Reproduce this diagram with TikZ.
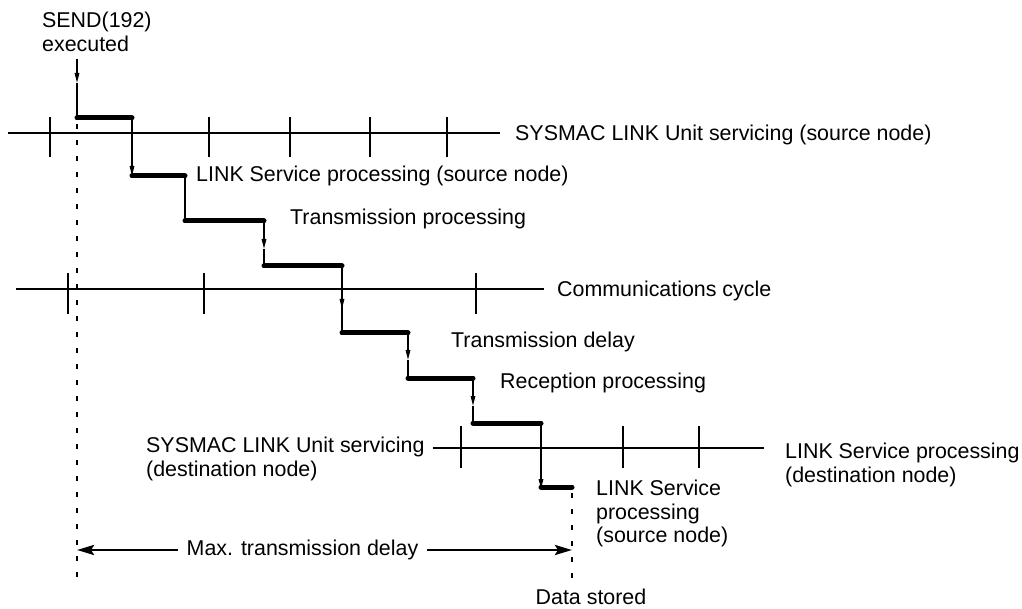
\documentclass[tikz,border=0pt]{standalone}
\usepackage{fontspec}
\setmainfont{Liberation Sans}
\usetikzlibrary{arrows.meta}
\begin{document}
\begin{tikzpicture}[x=1pt,y=-1pt,
  axis/.style={line width=1.3pt},
  tickmark/.style={line width=1.3pt},
  steptrace/.style={line width=5pt, line cap=round},
  drop/.style={line width=1.5pt},
  droparrow/.style={line width=1.5pt,-{Triangle[length=10pt,width=4.5pt]}},
  guide/.style={line width=1.2pt, dash pattern=on 5pt off 11pt},
  lbl/.style={font=\fontsize{21.4}{23.3}\selectfont, inner sep=0pt},
  span/.style={line width=2.8pt,-{Stealth[length=17pt,width=10pt,inset=3pt]}}
]
\useasboundingbox (0,0) rectangle (1022,609);

% guide lines
\coordinate (gLt) at (77,124);
\coordinate (gLb) at (77,584);
\coordinate (gRt) at (572,493);
\coordinate (gRb) at (572,578);
\draw[guide] (gLt) -- (gLb);
\draw[guide] (gRt) -- (gRb);

% time axes
\coordinate (a1s) at (8,133);   \coordinate (a1e) at (500,133);
\coordinate (a2s) at (16,289);  \coordinate (a2e) at (544,289);
\coordinate (a3s) at (433,448); \coordinate (a3e) at (764,448);
\draw[axis] (a1s) -- (a1e);
\draw[axis] (a2s) -- (a2e);
\draw[axis] (a3s) -- (a3e);
\foreach \x in {50,209,290,370,447} \draw[tickmark] (\x,117) -- (\x,157);
\foreach \x in {68,204,342,476} \draw[tickmark] (\x,273) -- (\x,314);
\foreach \x in {461,623,699} \draw[tickmark] (\x,426) -- (\x,468);

% step trace
\coordinate (p0) at (77,59);
\coordinate (m0) at (77,83);
\coordinate (s1a) at (77,118);  \coordinate (s1b) at (132,118);
\coordinate (s2a) at (132,176); \coordinate (s2b) at (185,176);
\coordinate (s3a) at (185,221); \coordinate (s3b) at (264,221);
\coordinate (m3) at (264,249);
\coordinate (s4a) at (264,266); \coordinate (s4b) at (342,266);
\coordinate (m4) at (342,309);
\coordinate (s5a) at (342,333); \coordinate (s5b) at (408,333);
\coordinate (m5) at (408,360);
\coordinate (s6a) at (408,378); \coordinate (s6b) at (473,378);
\coordinate (m6) at (473,406);
\coordinate (s7a) at (473,423); \coordinate (s7b) at (541,423);
\coordinate (s8a) at (541,487); \coordinate (s8b) at (572,487);

\draw[droparrow] (p0) -- (m0); \draw[drop] (m0) -- (s1a);
\draw[droparrow] (s1b) -- (s2a);
\draw[drop] (s2b) -- (s3a);
\draw[droparrow] (s3b) -- (m3); \draw[drop] (m3) -- (s4a);
\draw[droparrow] (s4b) -- (m4); \draw[drop] (m4) -- (s5a);
\draw[droparrow] (s5b) -- (m5); \draw[drop] (m5) -- (s6a);
\draw[droparrow] (s6b) -- (m6); \draw[drop] (m6) -- (s7a);
\draw[droparrow] (s7b) -- ([yshift=-2pt]s8a);

\draw[steptrace] (s1a) -- (s1b);
\draw[steptrace] (s2a) -- (s2b);
\draw[steptrace] (s3a) -- (s3b);
\draw[steptrace] (s4a) -- (s4b);
\draw[steptrace] (s5a) -- (s5b);
\draw[steptrace] (s6a) -- (s6b);
\draw[steptrace] (s7a) -- (s7b);
\draw[steptrace] (s8a) -- (s8b);

% labels
\node[lbl, anchor=north west, align=left] (send) at (42,12) {SEND(192)\\executed};
\node[lbl, anchor=base west] (l1) at (515,141) {SYSMAC LINK Unit servicing (source node)};
\node[lbl, anchor=base west] (l2) at (196,182) {LINK Service processing (source node)};
\node[lbl, anchor=base west] (l3) at (290,225) {Transmission processing};
\node[lbl, anchor=base west] (l4) at (557,297) {Communications cycle};
\node[lbl, anchor=base west] (l5) at (451,348) {Transmission delay};
\node[lbl, anchor=base west] (l6) at (500,388) {Reception processing};
\node[lbl, anchor=north west, align=left] (l7) at (146,437) {SYSMAC LINK Unit servicing\\(destination node)};
\node[lbl, anchor=north west, align=left] (l8) at (785,443) {LINK Service processing\\(destination node)};
\node[lbl, anchor=north west, align=left] (l9) at (596,480) {LINK Service\\processing\\(source node)};
\node[lbl, anchor=base] (l10) at (591,604) {Data stored};

% max transmission delay
\coordinate (mL) at (77,550);
\coordinate (mR) at (572,550);
\node[lbl, inner xsep=9pt] (maxl) at (302.5,550) {Max. transmission delay};
\draw[span] (maxl.west) -- (mL);
\draw[span] (maxl.east) -- (mR);
\end{tikzpicture}
\end{document}
